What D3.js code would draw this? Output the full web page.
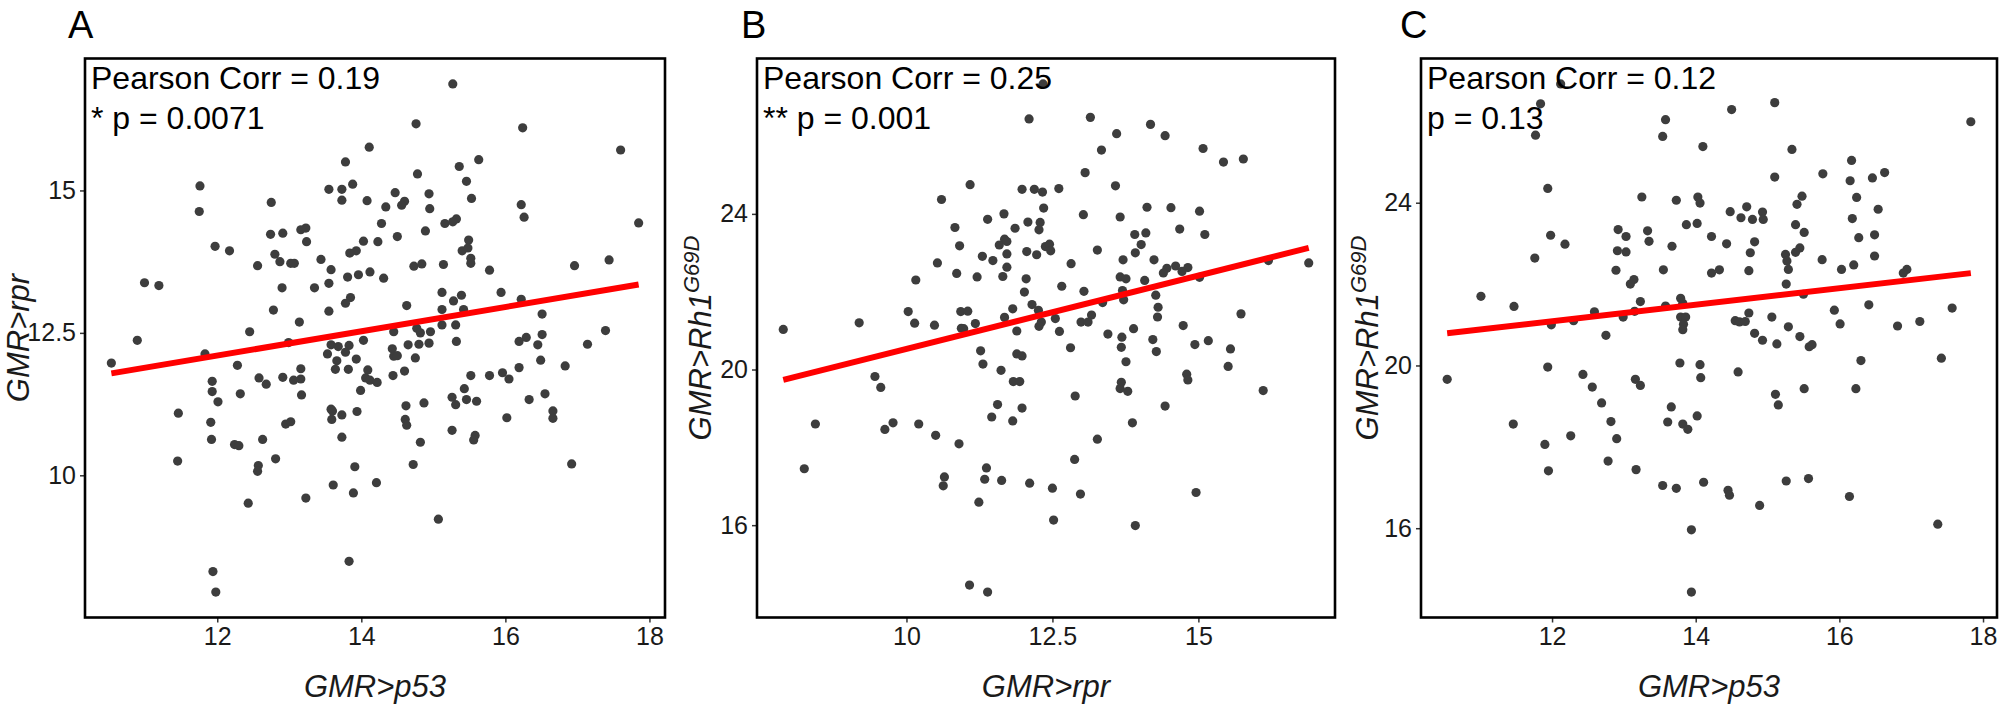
<!DOCTYPE html>
<html lang="en">
<head>
  <meta charset="UTF-8">
  <title>Pearson correlations</title>
  <script src="https://cdn.jsdelivr.net/npm/d3@7/dist/d3.min.js"></script>
<style>
body{
  margin: 0;
  background: #fff;
}
text{
  font-family: "Liberation Sans", Arial, sans-serif;
}
.caja{
  fill: none;
  stroke: #000;
  stroke-width: 2.6;
}
.punto{
  fill: #3d3d3d;
}
.ajuste{
  stroke: #ff0000;
  stroke-width: 6;
}
</style>
</head>
<body>
  <div id="grafico"></div>

  <script>
    // A: GMR>p53 (x) vs GMR>rpr (y)
    var panelA = [[15.27,16.87],[14.76,16.17],[16.24,16.10],[14.11,15.76],[17.60,15.71],[15.63,15.54],[13.78,15.50],[15.36,15.42],[14.78,15.29],[15.46,15.16],[11.76,15.08],[13.88,15.11],[13.55,15.02],[13.73,15.02],[14.47,14.96],[14.94,14.94],[15.53,14.86],[13.73,14.83],[14.08,14.82],[14.60,14.81],[14.56,14.74],[14.34,14.71],[14.95,14.68],[16.22,14.75],[11.75,14.63],[12.75,14.79],[16.26,14.53],[17.85,14.43],[14.28,14.42],[15.16,14.42],[15.32,14.50],[15.27,14.45],[13.23,14.34],[13.16,14.31],[12.74,14.23],[12.91,14.25],[14.89,14.29],[14.50,14.19],[15.49,14.13],[11.97,14.02],[13.24,14.10],[14.03,14.11],[14.23,14.10],[12.17,13.94],[13.93,13.94],[13.84,13.90],[15.40,13.94],[15.48,13.99],[12.80,13.88],[12.87,13.75],[13.02,13.72],[13.07,13.72],[13.44,13.79],[15.52,13.81],[15.52,13.72],[12.56,13.68],[13.58,13.61],[14.73,13.67],[14.84,13.71],[15.14,13.70],[16.96,13.68],[17.44,13.78],[15.78,13.60],[13.81,13.48],[13.96,13.52],[14.12,13.57],[14.31,13.46],[10.99,13.38],[11.19,13.33],[12.90,13.29],[13.35,13.29],[13.55,13.37],[15.94,13.21],[15.12,13.21],[15.39,13.16],[15.28,13.06],[13.85,13.12],[13.78,13.02],[16.22,13.09],[14.63,12.98],[12.78,12.90],[13.55,12.88],[15.12,12.91],[15.42,12.91],[13.14,12.69],[16.51,12.83],[15.12,12.64],[15.31,12.64],[14.77,12.58],[10.89,12.37],[12.45,12.52],[14.45,12.52],[14.82,12.50],[14.96,12.52],[16.29,12.42],[16.51,12.47],[17.39,12.54],[12.99,12.33],[13.58,12.29],[13.68,12.26],[13.83,12.28],[14.03,12.37],[14.65,12.29],[14.80,12.30],[14.94,12.32],[15.32,12.35],[16.19,12.35],[16.45,12.29],[17.14,12.30],[11.83,12.13],[10.53,11.97],[13.53,12.13],[13.78,12.16],[14.43,12.22],[14.45,12.09],[14.50,12.10],[13.93,12.04],[13.66,12.01],[14.75,12.06],[16.49,12.02],[12.28,11.93],[13.16,11.87],[13.64,11.86],[13.82,11.86],[14.09,11.85],[16.83,11.92],[16.19,11.89],[14.44,11.75],[14.60,11.83],[15.52,11.75],[15.78,11.75],[15.96,11.80],[16.05,11.69],[12.58,11.71],[12.91,11.72],[11.93,11.65],[13.06,11.67],[13.16,11.69],[14.06,11.71],[14.12,11.67],[14.22,11.63],[12.68,11.60],[13.99,11.49],[15.43,11.52],[11.93,11.47],[12.32,11.43],[13.17,11.41],[16.55,11.43],[15.26,11.37],[15.46,11.33],[15.60,11.30],[16.33,11.33],[12.01,11.29],[14.87,11.27],[15.31,11.24],[14.62,11.22],[13.58,11.16],[13.60,11.13],[13.94,11.12],[16.66,11.13],[11.46,11.09],[13.73,11.06],[13.59,10.98],[14.61,10.98],[16.02,11.01],[16.66,11.00],[11.91,10.93],[12.95,10.90],[13.02,10.94],[14.63,10.88],[15.26,10.79],[11.92,10.63],[12.63,10.63],[13.73,10.67],[15.58,10.70],[15.56,10.62],[12.24,10.54],[12.30,10.52],[14.82,10.58],[11.45,10.25],[12.81,10.29],[14.72,10.19],[16.92,10.20],[12.57,10.17],[12.56,10.07],[13.91,10.15],[13.61,9.83],[14.21,9.87],[13.89,9.69],[12.43,9.51],[13.23,9.60],[15.07,9.23],[13.83,8.49],[11.94,8.31],[11.98,7.95]];

    // B: GMR>rpr (x) vs GMR>Rh1G69D (y)
    var panelB = [[12.34,27.34],[12.10,26.44],[13.15,26.48],[14.18,26.30],[13.60,26.06],[14.43,26.01],[13.34,25.64],[15.08,25.68],[15.43,25.33],[15.77,25.41],[13.06,25.06],[11.09,24.75],[13.58,24.72],[11.98,24.63],[12.19,24.63],[12.33,24.56],[12.61,24.65],[10.60,24.37],[12.35,24.15],[14.12,24.17],[14.53,24.16],[15.02,24.07],[13.03,23.98],[11.67,24.00],[13.66,23.92],[11.39,23.86],[12.08,23.79],[12.29,23.78],[10.83,23.65],[11.86,23.63],[12.27,23.59],[14.68,23.61],[13.91,23.47],[14.10,23.51],[15.11,23.47],[11.68,23.35],[11.59,23.20],[10.91,23.18],[11.72,23.29],[13.27,23.07],[14.02,23.21],[12.38,23.16],[12.45,23.22],[12.47,23.05],[12.06,23.03],[11.30,22.91],[11.72,22.97],[12.23,22.95],[13.92,23.00],[10.53,22.74],[11.48,22.80],[13.71,22.82],[14.24,22.82],[11.72,22.63],[12.82,22.72],[14.61,22.66],[14.46,22.60],[14.82,22.62],[16.20,22.80],[16.89,22.74],[10.86,22.47],[11.21,22.38],[11.65,22.39],[14.40,22.48],[14.72,22.52],[15.02,22.37],[12.05,22.33],[13.66,22.38],[13.76,22.33],[10.16,22.30],[14.08,22.29],[12.66,22.14],[13.04,22.01],[12.02,21.99],[13.70,22.03],[14.27,21.91],[12.15,21.67],[13.36,21.72],[13.72,21.79],[10.03,21.49],[10.93,21.49],[11.05,21.50],[11.82,21.56],[12.26,21.52],[14.31,21.60],[13.17,21.40],[14.30,21.35],[9.19,21.20],[10.14,21.19],[10.48,21.14],[11.18,21.18],[11.68,21.34],[12.55,21.31],[12.99,21.22],[13.11,21.22],[12.31,21.22],[12.27,21.11],[14.74,21.13],[15.73,21.43],[7.89,21.03],[10.94,21.06],[10.98,21.05],[11.89,20.99],[12.62,20.98],[13.45,20.91],[13.89,21.05],[13.69,20.83],[14.22,20.77],[15.17,20.74],[14.94,20.64],[11.27,20.48],[12.81,20.56],[13.68,20.57],[15.55,20.53],[11.89,20.40],[11.98,20.35],[14.28,20.46],[11.31,20.14],[13.76,20.20],[11.62,19.98],[15.51,20.08],[9.46,19.82],[14.80,19.88],[11.83,19.69],[11.94,19.69],[13.68,19.67],[14.82,19.73],[9.56,19.54],[13.66,19.51],[13.79,19.44],[16.11,19.46],[12.89,19.32],[11.56,19.10],[11.98,19.01],[14.43,19.06],[11.46,18.78],[11.82,18.68],[13.87,18.63],[8.44,18.60],[9.77,18.63],[10.21,18.60],[9.63,18.46],[10.50,18.31],[13.27,18.21],[10.90,18.09],[8.25,17.45],[11.37,17.47],[12.88,17.69],[10.65,17.24],[10.63,17.01],[11.34,17.18],[11.63,17.15],[12.11,17.08],[12.50,16.95],[11.24,16.59],[12.98,16.80],[14.96,16.84],[12.52,16.13],[13.92,15.99],[11.08,14.46],[11.39,14.28]];

    // C: GMR>p53 (x) vs GMR>Rh1G69D (y)
    var panelC = [[12.12,26.92],[11.84,26.43],[15.10,26.46],[14.50,26.29],[13.58,26.04],[17.83,25.99],[11.77,25.66],[13.54,25.63],[14.10,25.38],[15.34,25.31],[16.17,25.04],[15.77,24.71],[16.63,24.74],[15.10,24.63],[16.15,24.54],[16.46,24.61],[11.94,24.35],[13.25,24.14],[14.03,24.14],[15.48,24.16],[16.24,24.13],[13.73,24.06],[14.06,23.99],[15.41,23.96],[14.71,23.90],[16.54,23.84],[14.48,23.78],[14.93,23.77],[14.63,23.63],[14.79,23.59],[14.94,23.59],[16.18,23.61],[13.87,23.46],[14.02,23.49],[15.39,23.46],[12.92,23.34],[13.33,23.31],[15.51,23.27],[16.49,23.21],[11.98,23.20],[13.03,23.17],[14.22,23.17],[16.27,23.14],[13.35,23.05],[12.18,22.98],[14.43,22.99],[14.82,23.04],[13.67,22.93],[15.45,22.89],[12.91,22.82],[13.03,22.79],[14.76,22.77],[15.25,22.73],[15.39,22.78],[16.49,22.69],[11.76,22.64],[15.76,22.60],[15.27,22.57],[16.20,22.47],[12.89,22.34],[13.55,22.35],[14.74,22.33],[15.29,22.36],[16.03,22.36],[14.22,22.27],[14.33,22.35],[16.94,22.36],[16.89,22.27],[13.14,22.11],[13.09,22.00],[15.26,22.00],[11.01,21.70],[13.23,21.57],[13.79,21.65],[13.82,21.53],[15.50,21.75],[11.47,21.45],[13.58,21.46],[16.41,21.49],[12.59,21.32],[13.15,21.33],[15.93,21.36],[17.57,21.41],[12.99,21.19],[13.79,21.19],[13.86,21.19],[14.74,21.29],[15.06,21.19],[12.30,21.10],[14.55,21.10],[14.61,21.07],[14.69,21.08],[17.12,21.08],[11.99,21.00],[13.83,21.01],[16.01,21.02],[16.81,20.97],[15.29,20.95],[13.82,20.88],[12.75,20.74],[14.82,20.79],[15.45,20.71],[14.93,20.62],[15.13,20.53],[15.58,20.46],[15.62,20.51],[17.42,20.18],[13.78,20.06],[14.06,20.02],[10.54,19.66],[11.94,19.96],[16.30,20.12],[12.43,19.78],[14.59,19.84],[14.07,19.70],[13.16,19.66],[13.23,19.51],[12.56,19.47],[15.51,19.43],[16.23,19.43],[15.11,19.29],[12.69,19.08],[13.66,18.98],[15.15,19.03],[14.02,18.76],[12.82,18.62],[13.61,18.61],[13.82,18.56],[11.46,18.56],[13.89,18.43],[12.26,18.27],[12.90,18.20],[11.90,18.06],[12.78,17.65],[11.95,17.41],[13.17,17.44],[13.54,17.05],[13.73,16.98],[14.11,17.13],[15.26,17.16],[15.57,17.22],[14.45,16.93],[14.47,16.81],[16.14,16.78],[14.89,16.56],[17.37,16.10],[13.94,15.96],[13.94,14.43]];

    // recta de ajuste: [intercepto, pendiente]
    var ajusteA = [9.546, 0.213];
    var ajusteB = [16.76, 0.377];
    var ajusteC = [18.65, 0.203];

    var letras = ["A", "B", "C"];
    var correlaciones = ["Pearson Corr = 0.19", "Pearson Corr = 0.25", "Pearson Corr = 0.12"];
    var valoresP = ["* p = 0.0071", "** p = 0.001", "p = 0.13"];
    var titulosX = ["GMR>p53", "GMR>rpr", "GMR>p53"];
    var titulosY = [["GMR>rpr", ""], ["GMR>Rh1", "G69D"], ["GMR>Rh1", "G69D"]];
    var ticksX = [[12, 14, 16, 18], [10, 12.5, 15], [12, 14, 16, 18]];
    var ticksY = [[10, 12.5, 15], [16, 20, 24], [16, 20, 24]];

    var w = 2005;
    var h = 708;
    var arriba = 58.5;
    var abajo = 617.5;
    // posicion horizontal de cada panel
    var izq = [85, 757, 1421];
    var der = [665, 1335, 1997];
    var letraX = [68, 741, 1400];
    var tituloYx = [29, 711, 1378];

    var datos = [panelA, panelB, panelC];
    var ajustes = [ajusteA, ajusteB, ajusteC];

    var svg = d3.select("#grafico")
      .append("svg")
      .attr("width", w)
      .attr("height", h);

    // rango con 5% extra, como ggplot
    function dominio(vals){
      var e = d3.extent(vals);
      var pad = (e[1] - e[0]) * 0.05;
      return [e[0] - pad, e[1] + pad];
    }

    for (var i = 0; i < 3; i++){
      var d = datos[i];
      var xScale = d3.scaleLinear()
        .domain(dominio(d.map(function(p){ return p[0]; })))
        .range([izq[i], der[i]]);
      var yScale = d3.scaleLinear()
        .domain(dominio(d.map(function(p){ return p[1]; })))
        .range([abajo, arriba]);

      var g = svg.append("g");

      // ejes
      var ejeX = g.append("g")
        .attr("transform", "translate(0," + abajo + ")")
        .call(d3.axisBottom(xScale).tickValues(ticksX[i]).tickSize(5).tickPadding(5)
          .tickFormat(function(v){ return String(v); }));
      var ejeY = g.append("g")
        .attr("transform", "translate(" + izq[i] + ",0)")
        .call(d3.axisLeft(yScale).tickValues(ticksY[i]).tickSize(5).tickPadding(4)
          .tickFormat(function(v){ return String(v); }));
      [ejeX, ejeY].forEach(function(eje){
        eje.select(".domain").remove();
        eje.selectAll("line").attr("stroke", "#333").attr("stroke-width", 1.5);
        eje.selectAll("text")
          .attr("fill", "#1a1a1a")
          .style("font-size", "25px")
          .style("font-family", '"Liberation Sans", Arial, sans-serif');
      });

      // puntos
      g.selectAll(".punto")
        .data(d)
        .enter()
        .append("circle")
        .classed("punto", true)
        .attr("cx", function(p){ return xScale(p[0]); })
        .attr("cy", function(p){ return yScale(p[1]); })
        .attr("r", 4.6);

      // recta de regresion
      var xr = d3.extent(d, function(p){ return p[0]; });
      var a = ajustes[i];
      g.append("line")
        .classed("ajuste", true)
        .attr("x1", xScale(xr[0]))
        .attr("y1", yScale(a[0] + a[1] * xr[0]))
        .attr("x2", xScale(xr[1]))
        .attr("y2", yScale(a[0] + a[1] * xr[1]));

      // marco
      g.append("rect")
        .classed("caja", true)
        .attr("x", izq[i])
        .attr("y", arriba)
        .attr("width", der[i] - izq[i])
        .attr("height", abajo - arriba);

      // textos
      g.append("text")
        .attr("x", izq[i] + 6)
        .attr("y", 89)
        .style("font-size", "32px")
        .text(correlaciones[i]);
      g.append("text")
        .attr("x", izq[i] + 6)
        .attr("y", 129)
        .style("font-size", "32px")
        .text(valoresP[i]);

      g.append("text")
        .attr("x", letraX[i])
        .attr("y", 38)
        .style("font-size", "38px")
        .text(letras[i]);

      g.append("text")
        .attr("x", (izq[i] + der[i]) / 2)
        .attr("y", 697)
        .attr("text-anchor", "middle")
        .style("font-size", "31px")
        .style("font-style", "italic")
        .attr("fill", "#1a1a1a")
        .text(titulosX[i]);

      var ty = g.append("text")
        .attr("transform", "translate(" + tituloYx[i] + "," + ((arriba + abajo) / 2) + ") rotate(-90)")
        .attr("text-anchor", "middle")
        .style("font-size", "31px")
        .style("font-style", "italic")
        .attr("fill", "#1a1a1a");
      ty.append("tspan").text(titulosY[i][0]);
      if (titulosY[i][1] != ""){
        ty.append("tspan")
          .attr("dy", -12)
          .style("font-size", "22px")
          .text(titulosY[i][1]);
      }
    }
  </script>
</body>
</html>
